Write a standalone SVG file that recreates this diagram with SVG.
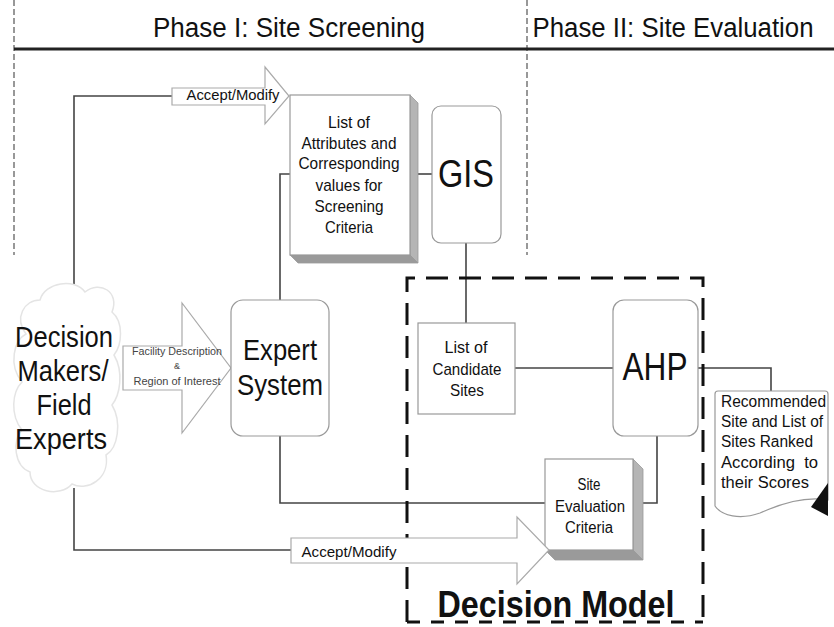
<svg xmlns="http://www.w3.org/2000/svg" width="834" height="627" viewBox="0 0 834 627">
<style>
text{font-family:"Liberation Sans",Arial,sans-serif;fill:#111;text-anchor:middle}
.conn{fill:none;stroke:#444;stroke-width:1.6}
.box{fill:#fff;stroke:#999;stroke-width:1.2}
.arrow{fill:#fff;stroke:#aaa;stroke-width:1.2}
.side{fill:#b5b5b5;stroke:#999;stroke-width:0.8}
.bot{fill:#9a9a9a;stroke:#999;stroke-width:0.8}
.phase{stroke:#777;stroke-width:1.5;stroke-dasharray:6 3;fill:none}
.dm{fill:none;stroke:#111;stroke-width:3}
.small{fill:#444}
.left{text-anchor:start}
</style>
<rect width="834" height="627" fill="#fff"/>
<g id="header">
<line class="phase" x1="14" y1="0" x2="14" y2="255"/>
<line class="phase" x1="527" y1="0" x2="527" y2="255"/>
<line x1="14" y1="49" x2="834" y2="49" stroke="#222" stroke-width="3"/>
<text x="289" y="37" font-size="27" textLength="272" lengthAdjust="spacingAndGlyphs">Phase I: Site Screening</text>
<text x="673" y="37" font-size="27" textLength="281" lengthAdjust="spacingAndGlyphs">Phase II: Site Evaluation</text>
</g>
<g id="connectors">
<path class="conn" d="M74,292 V96 H172"/>
<path class="conn" d="M74,488 V550 H291"/>
<path class="conn" d="M280,300 V174 H290"/>
<path class="conn" d="M418,174 H432"/>
<path class="conn" d="M466,243 V323"/>
<path class="conn" d="M515,368 H613"/>
<path class="conn" d="M698,368 H771 V391"/>
<path class="conn" d="M280,436 V503 H545"/>
<path class="conn" d="M643,503 H657 V436"/>
</g>
<g id="decision-model">
<path class="dm" d="M407,622 V278 H703 V622" stroke-dasharray="22 11"/>
<path class="dm" d="M407,622 H703" stroke-dasharray="13 11"/>
<text x="556" y="617" font-size="36" font-weight="bold" textLength="237" lengthAdjust="spacingAndGlyphs">Decision Model</text>
</g>
<g id="decision-makers">
<path d="M40,300 C45,282 75,278 85,292 C100,280 120,292 112,312 C124,322 122,345 114,355 C124,372 120,395 112,405 C122,422 118,448 106,455 C110,478 88,492 72,484 C60,498 30,492 30,472 C14,466 12,440 22,430 C10,415 12,392 22,382 C8,365 14,340 26,334 C14,318 24,300 40,300 Z" fill="#fff" stroke="#e4e4e4" stroke-width="1.5"/>
<text x="64" y="347" font-size="30" textLength="98" lengthAdjust="spacingAndGlyphs">Decision</text>
<text x="63" y="381" font-size="30" textLength="91" lengthAdjust="spacingAndGlyphs">Makers/</text>
<text x="64" y="415" font-size="30" textLength="55" lengthAdjust="spacingAndGlyphs">Field</text>
<text x="61" y="449" font-size="30" textLength="92" lengthAdjust="spacingAndGlyphs">Experts</text>
</g>
<g id="accept-modify-top">
<polygon class="arrow" points="172,88 265,88 265,67 289,96 265,124 265,105 172,105"/>
<text x="233" y="100" font-size="15" textLength="93" lengthAdjust="spacingAndGlyphs">Accept/Modify</text>
</g>
<g id="facility-arrow">
<polygon class="arrow" points="123,346 182,346 182,303 231,368 182,433 182,390 123,390"/>
<text class="small" x="177" y="355" font-size="10" textLength="90" lengthAdjust="spacingAndGlyphs">Facility Description</text>
<text class="small" x="177" y="369" font-size="9">&amp;</text>
<text class="small" x="177" y="385" font-size="10" textLength="87" lengthAdjust="spacingAndGlyphs">Region of Interest</text>
</g>
<g id="attributes-list">
<polygon class="side" points="410,95 418,103 418,263 410,255"/>
<polygon class="bot" points="290,255 410,255 418,263 298,263"/>
<rect class="box" x="290" y="95" width="120" height="160"/>
<text x="349" y="128" font-size="17" textLength="42" lengthAdjust="spacingAndGlyphs">List of</text>
<text x="349" y="149" font-size="17" textLength="95" lengthAdjust="spacingAndGlyphs">Attributes and</text>
<text x="349" y="169" font-size="17" textLength="101" lengthAdjust="spacingAndGlyphs">Corresponding</text>
<text x="349" y="191" font-size="17" textLength="67" lengthAdjust="spacingAndGlyphs">values for</text>
<text x="349" y="212" font-size="17" textLength="69" lengthAdjust="spacingAndGlyphs">Screening</text>
<text x="349" y="233" font-size="17" textLength="48" lengthAdjust="spacingAndGlyphs">Criteria</text>
</g>
<g id="gis">
<rect class="box" x="432" y="106" width="69" height="137" rx="9"/>
<text x="466" y="187" font-size="39" textLength="56" lengthAdjust="spacingAndGlyphs">GIS</text>
</g>
<g id="expert-system">
<rect class="box" x="231" y="300" width="98" height="136" rx="12"/>
<text x="280" y="360" font-size="30" textLength="74" lengthAdjust="spacingAndGlyphs">Expert</text>
<text x="280" y="395" font-size="30" textLength="86" lengthAdjust="spacingAndGlyphs">System</text>
</g>
<g id="candidate-sites">
<rect class="box" x="418" y="323" width="97" height="91"/>
<text x="466" y="353" font-size="17" textLength="43" lengthAdjust="spacingAndGlyphs">List of</text>
<text x="467" y="375" font-size="17" textLength="69" lengthAdjust="spacingAndGlyphs">Candidate</text>
<text x="467" y="396" font-size="17" textLength="34" lengthAdjust="spacingAndGlyphs">Sites</text>
</g>
<g id="ahp">
<rect class="box" x="613" y="300" width="85" height="136" rx="11"/>
<text x="655" y="380" font-size="38" textLength="65" lengthAdjust="spacingAndGlyphs">AHP</text>
</g>
<g id="site-evaluation">
<polygon class="side" points="633,459 643,469 643,560 633,550"/>
<polygon class="bot" points="545,550 633,550 643,560 555,560"/>
<rect class="box" x="545" y="459" width="88" height="91"/>
<text x="589" y="490" font-size="16" textLength="23" lengthAdjust="spacingAndGlyphs">Site</text>
<text x="590" y="512" font-size="16" textLength="70" lengthAdjust="spacingAndGlyphs">Evaluation</text>
<text x="589" y="533" font-size="16" textLength="48" lengthAdjust="spacingAndGlyphs">Criteria</text>
</g>
<g id="accept-modify-bottom">
<polygon class="arrow" points="291,538 517,538 517,517 549,550 517,584 517,563 291,563"/>
<text x="349" y="557" font-size="15" textLength="95" lengthAdjust="spacingAndGlyphs">Accept/Modify</text>
</g>
<g id="recommended">
<path d="M718,391 H825 Q828,391 828,394 V500 C805,496 780,504 760,513 C740,520 722,516 715,506 V394 Q715,391 718,391 Z" class="box"/>
<polygon points="828,483 811,507 828,516" fill="#111"/>
<text class="left" x="721" y="407" font-size="16" textLength="105" lengthAdjust="spacingAndGlyphs">Recommended</text>
<text class="left" x="721" y="427" font-size="16" textLength="102" lengthAdjust="spacingAndGlyphs">Site and List of</text>
<text class="left" x="721" y="447" font-size="16" textLength="92" lengthAdjust="spacingAndGlyphs">Sites Ranked</text>
<text class="left" x="721" y="468" font-size="16" textLength="97" lengthAdjust="spacingAndGlyphs" xml:space="preserve">According  to</text>
<text class="left" x="721" y="488" font-size="16" textLength="88" lengthAdjust="spacingAndGlyphs">their Scores</text>
</g>
</svg>
